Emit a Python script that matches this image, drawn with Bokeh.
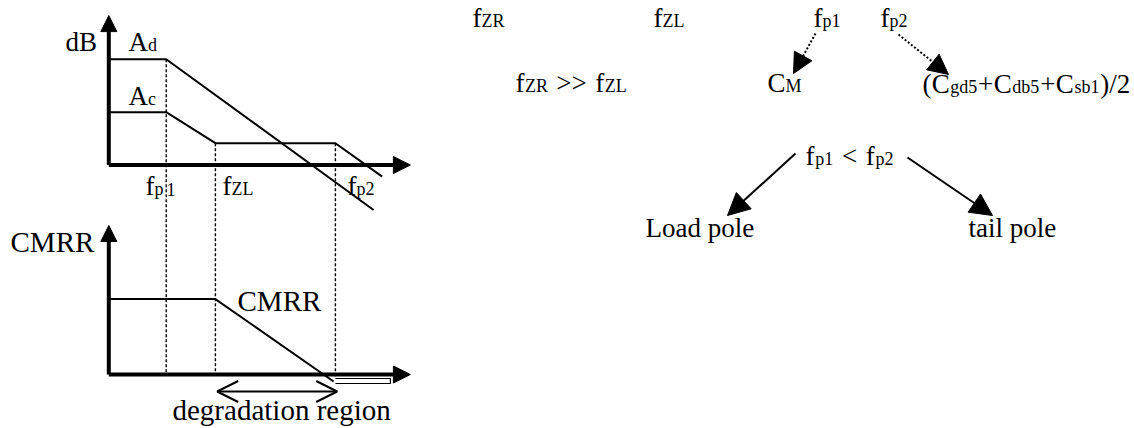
from bokeh.plotting import figure
from bokeh.models import Range1d, Arrow, NormalHead, OpenHead, ColumnDataSource
from bokeh.core.properties import value
from bokeh.embed import file_html
from bokeh.resources import INLINE

# ---------------- data (sketch values, arbitrary units) -------------
F_P1, F_ZL, F_P2 = 2.87, 5.33, 11.33          # break frequencies on the log axis
AD_X = [0, 2.87, 13.24]                       # differential gain Ad
AD_Y = [5.29, 5.29, -2.25]
AC_X = [0, 2.87, 5.33, 11.33, 13.67]          # common-mode gain Ac
AC_Y = [2.64, 2.64, 1.09, 1.09, -0.58]
CMRR_X = [0, 5.33, 11.24]                     # CMRR
CMRR_Y = [3.77, 3.77, -0.35]
DASH_X = [2.87, 5.33, 11.33]                  # guide lines at fp1, fzL, fp2
DASH_TOP = [5.29, 1.09, 1.09]
AXIS_LEN_F, AXIS_LEN_UP, AXIS_LEN_LOW = 15.08, 7.47, 7.45
DEG_REGION = [5.42, 11.42]                    # "degradation region" span

# ---------------- frame: main range = picture pixels -----------------
W_PX, H_PX = 1134, 428
S = 20.0                      # pixels per sketch unit
OX, OY_UP, OY_LOW = 108.3, 164.5, 374.0
GAP = (OY_LOW - OY_UP) / S

p = figure(width=W_PX, height=H_PX, output_backend="svg", toolbar_location=None,
           x_range=Range1d(0, W_PX), y_range=Range1d(H_PX, 0),
           x_axis_type=None, y_axis_type=None, min_border=0,
           background_fill_color="white", border_fill_color="white")
p.outline_line_color = None
p.grid.visible = False

p.extra_x_ranges = {"f": Range1d((0 - OX) / S, (W_PX - OX) / S)}
p.extra_y_ranges = {
    "up": Range1d((OY_UP - H_PX) / S, (OY_UP - 0) / S),
    "low": Range1d((OY_LOW - H_PX) / S, (OY_LOW - 0) / S),
}

FONT = value("Liberation Serif")
BLACK = "black"

# ---- guide dashed lines (span both plots) ----
for x, top in zip(DASH_X, DASH_TOP):
    bottom = -GAP - (0.15 if x == F_P2 else 0)
    p.line([x, x], [top, bottom], x_range_name="f", y_range_name="up",
           line_color=BLACK, line_width=1.4, line_dash="3 2")

# ---- curves ----
p.line(AD_X, AD_Y, x_range_name="f", y_range_name="up", line_color=BLACK, line_width=2)
p.line(AC_X, AC_Y, x_range_name="f", y_range_name="up", line_color=BLACK, line_width=2)
p.line(CMRR_X, CMRR_Y, x_range_name="f", y_range_name="low", line_color=BLACK, line_width=2)
# small outline below the lower axis
p.line([F_P2, 14.08, 14.08, F_P2], [-0.2, -0.2, -0.45, -0.45], x_range_name="f",
       y_range_name="low", line_color=BLACK, line_width=1.2)

# ---- axes with arrow heads ----
for rn, ylen in (("up", AXIS_LEN_UP), ("low", AXIS_LEN_LOW)):
    p.add_layout(Arrow(end=NormalHead(size=17, fill_color=BLACK, line_color=BLACK),
                       x_start=0, y_start=0, x_end=AXIS_LEN_F, y_end=0,
                       x_range_name="f", y_range_name=rn, line_width=4, line_color=BLACK))
    p.add_layout(Arrow(end=NormalHead(size=16, fill_color=BLACK, line_color=BLACK),
                       x_start=0, y_start=0, x_end=0, y_end=ylen,
                       x_range_name="f", y_range_name=rn, line_width=4, line_color=BLACK))

# ---- degradation region double arrow ----
p.add_layout(Arrow(start=OpenHead(size=21, line_width=2, line_color=BLACK),
                   end=OpenHead(size=21, line_width=2, line_color=BLACK),
                   x_start=DEG_REGION[0], y_start=-0.85, x_end=DEG_REGION[1], y_end=-0.85,
                   x_range_name="f", y_range_name="low", line_width=2, line_color=BLACK))

# ---- arrows on the right-hand notes (picture pixel coords) ----
def head(sz):
    return NormalHead(size=sz, fill_color=BLACK, line_color=BLACK)

p.add_layout(Arrow(end=head(20), x_start=815, y_start=33, x_end=793, y_end=73,
                   line_width=2, line_dash="2 2", line_color=BLACK))
p.add_layout(Arrow(end=head(20), x_start=898, y_start=34, x_end=948, y_end=74,
                   line_width=2, line_dash="2 2", line_color=BLACK))
p.add_layout(Arrow(end=head(22), x_start=795, y_start=153, x_end=727, y_end=215,
                   line_width=2, line_color=BLACK))
p.add_layout(Arrow(end=head(22), x_start=907, y_start=157, x_end=992, y_end=215,
                   line_width=2, line_color=BLACK))

# ---- texts (runs with subscripts), grouped by font size ----
MAIN, SUB, BIG = 27, 18, 29
BASE_SHIFT = 0.345        # glyph text is vertically centred: shift up to sit on the baseline
CW = {' ': 250, '(': 333, ')': 333, '/': 278, '+': 564, '<': 564, '>': 564,
      'A': 722, 'B': 667, 'C': 667, 'L': 611, 'M': 889, 'R': 667, 'Z': 611,
      'a': 444, 'b': 500, 'c': 444, 'd': 500, 'e': 444, 'f': 333, 'g': 500, 'i': 278,
      'l': 278, 'n': 500, 'o': 500, 'p': 500, 'r': 333, 's': 389, 't': 278}

def width(s, size):
    return sum(CW.get(ch, 500) for ch in s) / 1000.0 * size

GROUPS = {}

def runs(x, y, parts, k=1.0):
    for txt, sz in parts:
        lead = len(txt) - len(txt.lstrip(" "))
        x += width(" " * lead, sz) * k          # SVG drops leading blanks: advance instead
        core = txt.strip(" ")
        if core:
            g = GROUPS.setdefault(sz, dict(x=[], y=[], text=[]))
            g["x"].append(x); g["y"].append(y - BASE_SHIFT * sz); g["text"].append(core)
        x += width(txt[lead:], sz) * k

# left diagram labels (x, baseline)
runs(65, 51, [("dB", MAIN)])
runs(128, 51, [("A", MAIN), ("d", SUB)])
runs(128, 105, [("A", MAIN), ("c", SUB)])
runs(145, 195, [("f", MAIN), ("p", SUB)])
runs(166, 195, [("1", SUB)])
runs(222, 195, [("f", MAIN), ("ZL", SUB)])
runs(347, 195, [("f", MAIN), ("p2", SUB)])
runs(10, 252, [("CMRR", BIG)])
runs(237, 311, [("CMRR", BIG)])
runs(172, 420, [("degradation region", BIG)])

# right notes
runs(472, 27, [("f", MAIN), ("ZR", SUB)])
runs(653, 27, [("f", MAIN), ("ZL", SUB)])
runs(813, 27, [("f", MAIN), ("p1", SUB)])
runs(880, 27, [("f", MAIN), ("p2", SUB)])
runs(515, 92, [("f", MAIN), ("ZR", SUB), (" >> ", MAIN), ("f", MAIN), ("ZL", SUB)], k=1.05)
runs(767, 92, [("C", MAIN), ("M", SUB)])
runs(922, 93, [("(", MAIN), ("C", MAIN), ("gd5", SUB), ("+", MAIN), ("C", MAIN), ("db5", SUB),
               ("+", MAIN), ("C", MAIN), ("sb1", SUB), (")/2", MAIN)], k=1.03)
runs(805, 165, [("f", MAIN), ("p1", SUB), (" < ", MAIN), ("f", MAIN), ("p2", SUB)], k=1.08)
runs(645, 237, [("Load pole", MAIN)])
runs(968, 237, [("tail pole", MAIN)])

for sz, g in GROUPS.items():
    p.text(x="x", y="y", text="text", source=ColumnDataSource(g), text_font=FONT,
           text_font_size=f"{sz}px", text_color=BLACK, text_align="left",
           text_baseline="alphabetic")

open("out.html", "w").write(file_html(p, INLINE))
